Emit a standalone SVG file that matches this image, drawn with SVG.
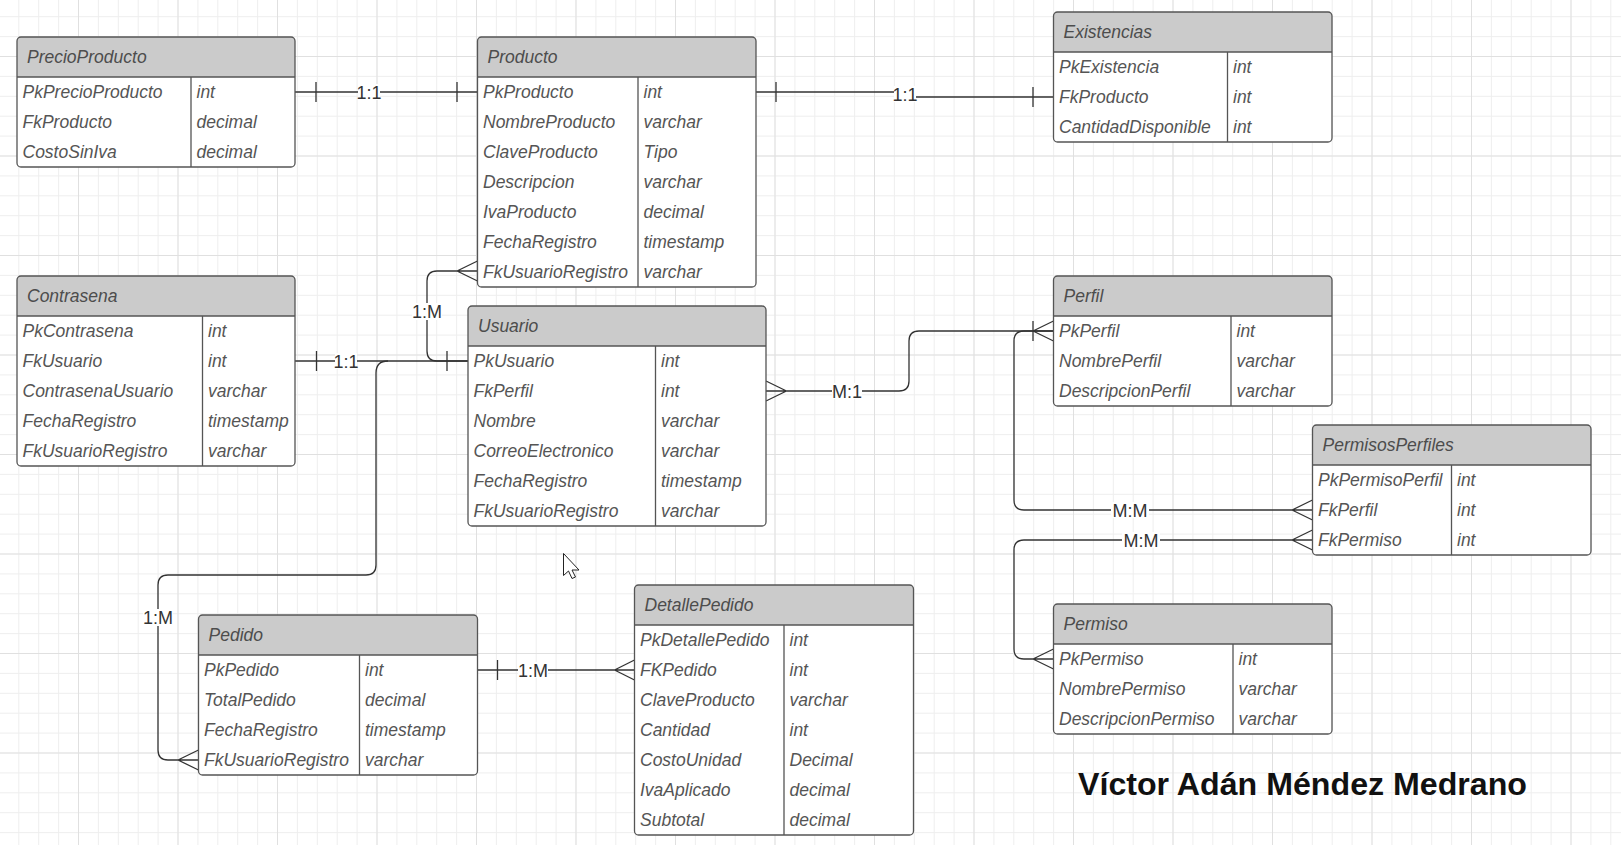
<svg xmlns="http://www.w3.org/2000/svg" width="1621" height="845" viewBox="0 0 1621 845">
<defs>
<pattern id="gMinor" patternUnits="userSpaceOnUse" x="78" y="56" width="19.9" height="19.9">
<path d="M0.5,0V19.9M0,0.5H19.9" fill="none" stroke="#eeeeee" stroke-width="1"/>
</pattern>
<pattern id="gMajor" patternUnits="userSpaceOnUse" x="78" y="56" width="99.5" height="99.5">
<path d="M0.5,0V99.5M0,0.5H99.5" fill="none" stroke="#e0e0e0" stroke-width="1"/>
</pattern>
<style>
.box{fill:none;stroke:#555;stroke-width:1.3}
.bg{fill:#fff}
.hdr{fill:#cbcbcb}
.sep{fill:none;stroke:#555;stroke-width:1.3}
.t{font-family:"Liberation Sans",Arial,sans-serif;font-style:italic;font-size:17.5px;fill:#555}
.ht{font-family:"Liberation Sans",Arial,sans-serif;font-style:italic;font-size:17.5px;fill:#4d4d4d}
.ln{fill:none;stroke:#333;stroke-width:1.3}
.lb{fill:#fff}
.lbl{font-family:"Liberation Sans",Arial,sans-serif;font-size:18px;fill:#333;text-anchor:middle}
.sig{font-family:"Liberation Sans",Arial,sans-serif;font-weight:bold;font-size:32px;fill:#111}
</style>
</defs>
<rect width="1621" height="845" fill="#fff"/>
<rect width="1621" height="845" fill="url(#gMinor)"/>
<rect width="1621" height="845" fill="url(#gMajor)"/>

<g id="connectors">
<!-- PrecioProducto - Producto 1:1 -->
<path class="ln" d="M295,92H477.5M316,82V102M457,82V102"/>
<rect class="lb" x="358" y="84" width="22" height="16"/>
<text class="lbl" x="369" y="98.5">1:1</text>
<!-- Producto - Existencias 1:1 -->
<path class="ln" d="M756,92H904.5V97H1053.5M776,82V102M1033,87V107"/>
<rect class="lb" x="894" y="86" width="22" height="16"/>
<text class="lbl" x="905" y="100.5">1:1</text>
<!-- Contrasena - Usuario 1:1 -->
<path class="ln" d="M295,361H468M316.5,351V371M447,351V371"/>
<rect class="lb" x="335" y="353" width="22" height="16"/>
<text class="lbl" x="346" y="367.5">1:1</text>
<!-- Usuario - Producto 1:M -->
<path class="ln" d="M468,361H437Q427,361 427,351V281Q427,271 437,271H477.5M457,271L477.5,261M457,271L477.5,281"/>
<rect class="lb" x="412" y="303" width="30" height="17"/>
<text class="lbl" x="427" y="318">1:M</text>
<!-- Usuario - Pedido 1:M -->
<path class="ln" d="M388,361Q376,361 376,373V565Q376,575 366,575H168Q158,575 158,585V750Q158,760 168,760H198.5M178,760L198.5,750M178,760L198.5,770"/>
<rect class="lb" x="143" y="609" width="30" height="17"/>
<text class="lbl" x="158" y="624">1:M</text>
<!-- Pedido - DetallePedido 1:M -->
<path class="ln" d="M477.5,670H634.5M497.5,660V680M614.5,670L634.5,660M614.5,670L634.5,680"/>
<rect class="lb" x="518" y="662" width="30" height="16"/>
<text class="lbl" x="533" y="676.5">1:M</text>
<!-- Usuario - Perfil M:1 -->
<path class="ln" d="M766,391H899Q909,391 909,381V341Q909,331 919,331H1053.5M786.5,391L766,381M786.5,391L766,401M1033,321V341M1033,331L1053.5,321M1033,331L1053.5,341"/>
<rect class="lb" x="832" y="383" width="30" height="16"/>
<text class="lbl" x="847" y="397.5">M:1</text>
<!-- Perfil - PermisosPerfiles M:M -->
<path class="ln" d="M1053.5,331H1024Q1014,331 1014,341V500Q1014,510 1024,510H1312.5M1292,510L1312.5,500M1292,510L1312.5,520"/>
<rect class="lb" x="1111" y="502" width="38" height="16"/>
<text class="lbl" x="1130" y="516.5">M:M</text>
<!-- PermisosPerfiles - Permiso M:M -->
<path class="ln" d="M1312.5,540H1024Q1014,540 1014,550V649Q1014,659 1024,659H1053.5M1292,540L1312.5,530M1292,540L1312.5,550M1033,659L1053.5,649M1033,659L1053.5,669"/>
<rect class="lb" x="1122" y="532" width="38" height="16"/>
<text class="lbl" x="1141" y="546.5">M:M</text>
</g>

<g id="PrecioProducto" transform="translate(17,37)">
<rect class="bg" width="278" height="130" rx="4"/>
<path class="hdr" d="M0,40V4Q0,0 4,0H274Q278,0 278,4V40Z"/>
<path class="sep" d="M0,40H278M174,40V130"/>
<rect class="box" width="278" height="130" rx="4"/>
<text class="ht" x="10" y="26">PrecioProducto</text>
<text class="t" x="5.5" y="61">PkPrecioProducto</text><text class="t" x="179.5" y="61">int</text>
<text class="t" x="5.5" y="91">FkProducto</text><text class="t" x="179.5" y="91">decimal</text>
<text class="t" x="5.5" y="121">CostoSinIva</text><text class="t" x="179.5" y="121">decimal</text>
</g>

<g id="Producto" transform="translate(477.5,37)">
<rect class="bg" width="278.5" height="250" rx="4"/>
<path class="hdr" d="M0,40V4Q0,0 4,0H274.5Q278.5,0 278.5,4V40Z"/>
<path class="sep" d="M0,40H278.5M160.5,40V250"/>
<rect class="box" width="278.5" height="250" rx="4"/>
<text class="ht" x="10" y="26">Producto</text>
<text class="t" x="5.5" y="61">PkProducto</text><text class="t" x="166" y="61">int</text>
<text class="t" x="5.5" y="91">NombreProducto</text><text class="t" x="166" y="91">varchar</text>
<text class="t" x="5.5" y="121">ClaveProducto</text><text class="t" x="166" y="121">Tipo</text>
<text class="t" x="5.5" y="151">Descripcion</text><text class="t" x="166" y="151">varchar</text>
<text class="t" x="5.5" y="181">IvaProducto</text><text class="t" x="166" y="181">decimal</text>
<text class="t" x="5.5" y="211">FechaRegistro</text><text class="t" x="166" y="211">timestamp</text>
<text class="t" x="5.5" y="241">FkUsuarioRegistro</text><text class="t" x="166" y="241">varchar</text>
</g>

<g id="Existencias" transform="translate(1053.5,12)">
<rect class="bg" width="278.5" height="130" rx="4"/>
<path class="hdr" d="M0,40V4Q0,0 4,0H274.5Q278.5,0 278.5,4V40Z"/>
<path class="sep" d="M0,40H278.5M174,40V130"/>
<rect class="box" width="278.5" height="130" rx="4"/>
<text class="ht" x="10" y="26">Existencias</text>
<text class="t" x="5.5" y="61">PkExistencia</text><text class="t" x="179.5" y="61">int</text>
<text class="t" x="5.5" y="91">FkProducto</text><text class="t" x="179.5" y="91">int</text>
<text class="t" x="5.5" y="121">CantidadDisponible</text><text class="t" x="179.5" y="121">int</text>
</g>

<g id="Contrasena" transform="translate(17,276)">
<rect class="bg" width="278" height="190" rx="4"/>
<path class="hdr" d="M0,40V4Q0,0 4,0H274Q278,0 278,4V40Z"/>
<path class="sep" d="M0,40H278M185.5,40V190"/>
<rect class="box" width="278" height="190" rx="4"/>
<text class="ht" x="10" y="26">Contrasena</text>
<text class="t" x="5.5" y="61">PkContrasena</text><text class="t" x="191" y="61">int</text>
<text class="t" x="5.5" y="91">FkUsuario</text><text class="t" x="191" y="91">int</text>
<text class="t" x="5.5" y="121">ContrasenaUsuario</text><text class="t" x="191" y="121">varchar</text>
<text class="t" x="5.5" y="151">FechaRegistro</text><text class="t" x="191" y="151">timestamp</text>
<text class="t" x="5.5" y="181">FkUsuarioRegistro</text><text class="t" x="191" y="181">varchar</text>
</g>

<g id="Usuario" transform="translate(468,306)">
<rect class="bg" width="298" height="220" rx="4"/>
<path class="hdr" d="M0,40V4Q0,0 4,0H294Q298,0 298,4V40Z"/>
<path class="sep" d="M0,40H298M187.5,40V220"/>
<rect class="box" width="298" height="220" rx="4"/>
<text class="ht" x="10" y="26">Usuario</text>
<text class="t" x="5.5" y="61">PkUsuario</text><text class="t" x="193" y="61">int</text>
<text class="t" x="5.5" y="91">FkPerfil</text><text class="t" x="193" y="91">int</text>
<text class="t" x="5.5" y="121">Nombre</text><text class="t" x="193" y="121">varchar</text>
<text class="t" x="5.5" y="151">CorreoElectronico</text><text class="t" x="193" y="151">varchar</text>
<text class="t" x="5.5" y="181">FechaRegistro</text><text class="t" x="193" y="181">timestamp</text>
<text class="t" x="5.5" y="211">FkUsuarioRegistro</text><text class="t" x="193" y="211">varchar</text>
</g>

<g id="Perfil" transform="translate(1053.5,276)">
<rect class="bg" width="278.5" height="130" rx="4"/>
<path class="hdr" d="M0,40V4Q0,0 4,0H274.5Q278.5,0 278.5,4V40Z"/>
<path class="sep" d="M0,40H278.5M177.5,40V130"/>
<rect class="box" width="278.5" height="130" rx="4"/>
<text class="ht" x="10" y="26">Perfil</text>
<text class="t" x="5.5" y="61">PkPerfil</text><text class="t" x="183" y="61">int</text>
<text class="t" x="5.5" y="91">NombrePerfil</text><text class="t" x="183" y="91">varchar</text>
<text class="t" x="5.5" y="121">DescripcionPerfil</text><text class="t" x="183" y="121">varchar</text>
</g>

<g id="PermisosPerfiles" transform="translate(1312.5,425)">
<rect class="bg" width="278.5" height="130" rx="4"/>
<path class="hdr" d="M0,40V4Q0,0 4,0H274.5Q278.5,0 278.5,4V40Z"/>
<path class="sep" d="M0,40H278.5M139,40V130"/>
<rect class="box" width="278.5" height="130" rx="4"/>
<text class="ht" x="10" y="26">PermisosPerfiles</text>
<text class="t" x="5.5" y="61">PkPermisoPerfil</text><text class="t" x="144.5" y="61">int</text>
<text class="t" x="5.5" y="91">FkPerfil</text><text class="t" x="144.5" y="91">int</text>
<text class="t" x="5.5" y="121">FkPermiso</text><text class="t" x="144.5" y="121">int</text>
</g>

<g id="Permiso" transform="translate(1053.5,604)">
<rect class="bg" width="278.5" height="130" rx="4"/>
<path class="hdr" d="M0,40V4Q0,0 4,0H274.5Q278.5,0 278.5,4V40Z"/>
<path class="sep" d="M0,40H278.5M179.5,40V130"/>
<rect class="box" width="278.5" height="130" rx="4"/>
<text class="ht" x="10" y="26">Permiso</text>
<text class="t" x="5.5" y="61">PkPermiso</text><text class="t" x="185" y="61">int</text>
<text class="t" x="5.5" y="91">NombrePermiso</text><text class="t" x="185" y="91">varchar</text>
<text class="t" x="5.5" y="121">DescripcionPermiso</text><text class="t" x="185" y="121">varchar</text>
</g>

<g id="Pedido" transform="translate(198.5,615)">
<rect class="bg" width="279" height="160" rx="4"/>
<path class="hdr" d="M0,40V4Q0,0 4,0H275Q279,0 279,4V40Z"/>
<path class="sep" d="M0,40H279M161,40V160"/>
<rect class="box" width="279" height="160" rx="4"/>
<text class="ht" x="10" y="26">Pedido</text>
<text class="t" x="5.5" y="61">PkPedido</text><text class="t" x="166.5" y="61">int</text>
<text class="t" x="5.5" y="91">TotalPedido</text><text class="t" x="166.5" y="91">decimal</text>
<text class="t" x="5.5" y="121">FechaRegistro</text><text class="t" x="166.5" y="121">timestamp</text>
<text class="t" x="5.5" y="151">FkUsuarioRegistro</text><text class="t" x="166.5" y="151">varchar</text>
</g>

<g id="DetallePedido" transform="translate(634.5,585)">
<rect class="bg" width="279" height="250" rx="4"/>
<path class="hdr" d="M0,40V4Q0,0 4,0H275Q279,0 279,4V40Z"/>
<path class="sep" d="M0,40H279M149.5,40V250"/>
<rect class="box" width="279" height="250" rx="4"/>
<text class="ht" x="10" y="26">DetallePedido</text>
<text class="t" x="5.5" y="61">PkDetallePedido</text><text class="t" x="155" y="61">int</text>
<text class="t" x="5.5" y="91">FKPedido</text><text class="t" x="155" y="91">int</text>
<text class="t" x="5.5" y="121">ClaveProducto</text><text class="t" x="155" y="121">varchar</text>
<text class="t" x="5.5" y="151">Cantidad</text><text class="t" x="155" y="151">int</text>
<text class="t" x="5.5" y="181">CostoUnidad</text><text class="t" x="155" y="181">Decimal</text>
<text class="t" x="5.5" y="211">IvaAplicado</text><text class="t" x="155" y="211">decimal</text>
<text class="t" x="5.5" y="241">Subtotal</text><text class="t" x="155" y="241">decimal</text>
</g>

<text class="sig" x="1078" y="795" textLength="449" lengthAdjust="spacingAndGlyphs">Víctor Adán Méndez Medrano</text>

<path d="M563.5,553.5V575.5L568.5,571L572,578.5L575.5,577L572,570H579Z" fill="#fff" stroke="#222" stroke-width="1" stroke-linejoin="round"/>
</svg>
